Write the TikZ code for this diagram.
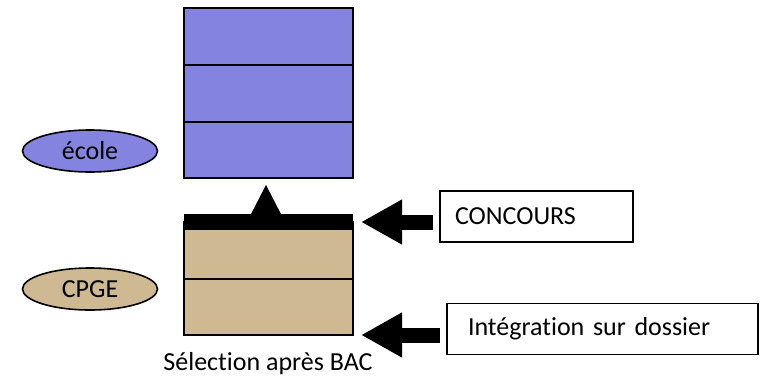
\documentclass[tikz,border=0pt]{standalone}
\usepackage{fontspec}
\setmainfont{Carlito}[Ligatures={NoCommon}]
\usetikzlibrary{shapes.geometric,arrows.meta}
\definecolor{ecoleblue}{RGB}{132,132,224}
\definecolor{cpgetan}{RGB}{206,185,146}
\tikzset{
  layer/.style={draw=black,line width=2.4pt,inner sep=0pt},
  bluelayer/.style={layer,fill=ecoleblue},
  tanlayer/.style={layer,fill=cpgetan},
  oval/.style={ellipse,draw=black,line width=1.6pt,minimum width=135pt,minimum height=42pt,inner sep=0pt},
  tbox/.style={draw=black,line width=1.3pt,minimum height=51pt,inner sep=0pt,align=left},
  bigarrow/.style={line width=15pt,-{Triangle[length=41pt,width=42pt]}}
}
\begin{document}
\begin{tikzpicture}[x=1pt,y=-1pt,every node/.style={font=\fontsize{26}{31}\selectfont}]
\useasboundingbox (0,0) rectangle (762,381);
% blue stack
\node[bluelayer,minimum width=169pt,minimum height=57pt] (b1) at (268.5,36.5) {};
\node[bluelayer,minimum width=169pt,minimum height=57pt] (b2) at (268.5,93.5) {};
\node[bluelayer,minimum width=169pt,minimum height=56pt] (b3) at (268.5,150) {};
% tan stack
\node[tanlayer,minimum width=169pt,minimum height=57pt] (t1) at (268.5,250.5) {};
\node[tanlayer,minimum width=169pt,minimum height=56pt] (t2) at (268.5,307) {};
% black bar with triangle
\fill[black] (184,214) rectangle (353,230);
\fill[black] (250,216) -- (266,185) -- (282,216) -- cycle;
% ovals
\node[oval,fill=ecoleblue] (ecole) at (90,151) {école};
\node[oval,fill=cpgetan] (cpge) at (90,289) {CPGE};
% text boxes
\node[tbox,minimum width=193pt,text width=163pt] (conc) at (536.5,216.5) {CONCOURS};
\node[tbox,minimum width=311pt,text width=269pt] (integ) at (602.5,329) {Intégration sur dossier};
% arrows
\coordinate (a1s) at (433,222);
\coordinate (a1e) at (361,222);
\coordinate (a2s) at (440,335);
\coordinate (a2e) at (361,335);
\draw[bigarrow] (a1s) -- (a1e);
\draw[bigarrow] (a2s) -- (a2e);
% caption
\node (sel) at (268,364) {Sélection après BAC};
\end{tikzpicture}
\end{document}
